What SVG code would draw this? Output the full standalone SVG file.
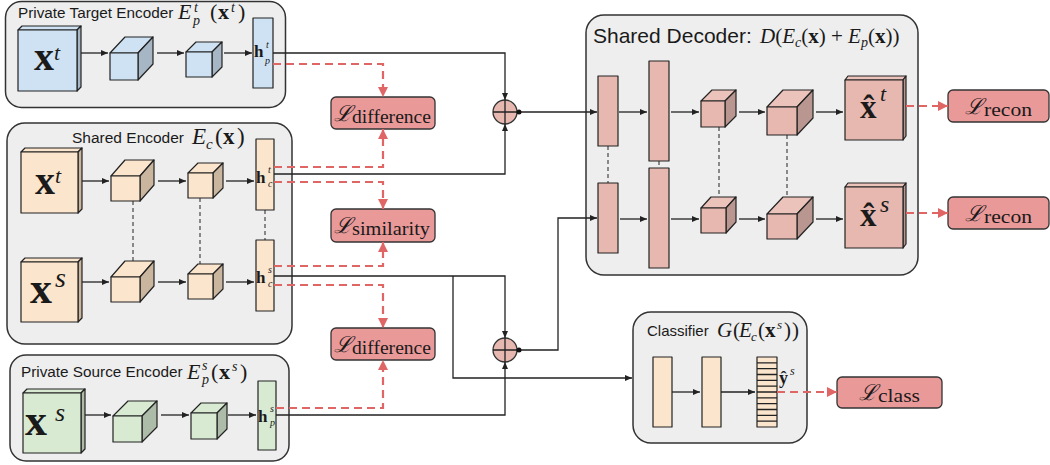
<svg xmlns="http://www.w3.org/2000/svg" width="1050" height="465" viewBox="0 0 1050 465">
<defs>
<style>
.panel{fill:#eeeeee;stroke:#333;stroke-width:1.5}
.sans{font-family:"Liberation Sans",Arial,sans-serif;fill:#1a1a1a}
.ser{font-family:"Liberation Serif","DejaVu Serif",serif;fill:#1a1a1a}
.it{font-style:italic}
.bf{font-weight:bold}
.cal{font-family:"DejaVu Serif","Liberation Serif",serif;font-style:italic;fill:#1a1a1a}
.ed{stroke:#222;stroke-width:1.2;stroke-linejoin:round}
.b1{fill:#cfe2f3}.b2{fill:#a6b6c4}
.o1{fill:#fce5cd}.o2{fill:#cab59f}
.g1{fill:#d9ead3}.g2{fill:#adbca8}
.p1{fill:#e6b8af}.p2{fill:#b99790}.p3{fill:#ebc3bb}
.loss{fill:#ea9999;stroke:#333;stroke-width:1.3}
.ln{fill:none;stroke:#222;stroke-width:1.3}
.dl{fill:none;stroke:#222;stroke-width:1;stroke-dasharray:4,3}
.rd{fill:none;stroke:#e06666;stroke-width:2.2;stroke-dasharray:8,5}
</style>
<marker id="ah" viewBox="0 0 7 6" refX="7" refY="3" markerWidth="7" markerHeight="6" markerUnits="userSpaceOnUse" orient="auto"><path d="M0,0 L7,3 L0,6 z" fill="#222"/></marker>
<marker id="rh" viewBox="0 0 10 10" refX="10" refY="5" markerWidth="10" markerHeight="10" markerUnits="userSpaceOnUse" orient="auto"><path d="M0,0 L10,5 L0,10 z" fill="#e06666"/></marker>
</defs>

<!-- Private Target Encoder -->
<g id="private-target-encoder">
<rect class="panel" x="5.5" y="1.5" width="280" height="106" rx="16"/>
<text class="sans" x="18" y="18" font-size="15.3">Private Target Encoder</text>
<text class="ser it" x="178" y="19" font-size="22">E</text>
<text class="ser it" x="194" y="12" font-size="14">t</text>
<text class="ser it" x="193" y="25" font-size="14">p</text>
<text class="ser" x="210" y="19" font-size="22">(</text>
<text class="ser bf" x="218" y="19" font-size="22">x</text>
<text class="ser it" x="231" y="12" font-size="14">t</text>
<text class="ser" x="238" y="19" font-size="22">)</text>
<polygon class="b1 ed" points="18,30 22,26 81,26 77,30"/>
<polygon class="b2 ed" points="77,30 81,26 81,87 77,91"/>
<rect class="b1 ed" x="18" y="30" width="59" height="61"/>
<text class="ser bf" x="34" y="70" font-size="40">x</text>
<text class="ser it" x="54" y="60" font-size="22">t</text>
<polygon class="b1 ed" points="110,53 125,37 153,37 138,53"/>
<polygon class="b2 ed" points="138,53 153,37 153,64 138,80"/>
<rect class="b1 ed" x="110" y="53" width="28" height="27"/>
<polygon class="b1 ed" points="186,52 196,42 222,42 212,52"/>
<polygon class="b2 ed" points="212,52 222,42 222,67 212,77"/>
<rect class="b1 ed" x="186" y="52" width="26" height="25"/>
<rect class="b1 ed" x="253" y="18" width="20" height="70"/>
<text class="ser bf" x="254" y="57" font-size="17">h</text>
<text class="ser it" x="266" y="48" font-size="10">t</text>
<text class="ser it" x="265" y="64" font-size="10">p</text>
</g>

<!-- Shared Encoder -->
<g id="shared-encoder">
<rect class="panel" x="7" y="123" width="285" height="221" rx="18"/>
<text class="sans" x="72" y="143" font-size="15.5">Shared Encoder</text>
<text class="ser it" x="192" y="144" font-size="23">E</text>
<text class="ser it" x="206" y="149" font-size="15">c</text>
<text class="ser" x="215" y="144" font-size="23">(</text>
<text class="ser bf" x="223" y="144" font-size="23">x</text>
<text class="ser" x="237" y="144" font-size="23">)</text>
<polygon class="o1 ed" points="21,152 25,148 82,148 78,152"/>
<polygon class="o2 ed" points="78,152 82,148 82,209 78,213"/>
<rect class="o1 ed" x="21" y="152" width="57" height="61"/>
<text class="ser bf" x="35" y="194" font-size="40">x</text>
<text class="ser it" x="55" y="183" font-size="22">t</text>
<polygon class="o1 ed" points="21,262 25,258 82,258 78,262"/>
<polygon class="o2 ed" points="78,262 82,258 82,318 78,322"/>
<rect class="o1 ed" x="21" y="262" width="57" height="60"/>
<text class="ser bf" x="30" y="303" font-size="44">x</text>
<text class="ser it" x="55" y="287" font-size="28">s</text>
<line class="dl" x1="133" y1="201" x2="133" y2="261"/>
<line class="dl" x1="200" y1="198" x2="200" y2="264"/>
<line class="dl" x1="265" y1="210" x2="265" y2="240"/>
<polygon class="o1 ed" points="111,176 125,160 154,160 140,176"/>
<polygon class="o2 ed" points="140,176 154,160 154,185 140,201"/>
<rect class="o1 ed" x="111" y="176" width="29" height="25"/>
<polygon class="o1 ed" points="188,173 198,163 223,163 213,173"/>
<polygon class="o2 ed" points="213,173 223,163 223,188 213,198"/>
<rect class="o1 ed" x="188" y="173" width="25" height="25"/>
<polygon class="o1 ed" points="111,277 125,261 154,261 140,277"/>
<polygon class="o2 ed" points="140,277 154,261 154,286 140,302"/>
<rect class="o1 ed" x="111" y="277" width="29" height="25"/>
<polygon class="o1 ed" points="188,274 198,264 223,264 213,274"/>
<polygon class="o2 ed" points="213,274 223,264 223,289 213,299"/>
<rect class="o1 ed" x="188" y="274" width="25" height="25"/>
<rect class="o1 ed" x="256" y="139" width="18" height="71"/>
<text class="ser bf" x="256" y="183" font-size="17">h</text>
<text class="ser it" x="268" y="173" font-size="10">t</text>
<text class="ser it" x="268" y="187" font-size="10">c</text>
<rect class="o1 ed" x="256" y="240" width="18" height="71"/>
<text class="ser bf" x="256" y="283" font-size="17">h</text>
<text class="ser it" x="268" y="273" font-size="10">s</text>
<text class="ser it" x="268" y="287" font-size="10">c</text>
</g>

<!-- Private Source Encoder -->
<g id="private-source-encoder">
<rect class="panel" x="10" y="355" width="279" height="106" rx="16"/>
<text class="sans" x="21" y="377" font-size="15.3">Private Source Encoder</text>
<text class="ser it" x="187" y="379" font-size="22">E</text>
<text class="ser it" x="202" y="370" font-size="14">s</text>
<text class="ser it" x="202" y="384" font-size="14">p</text>
<text class="ser" x="211" y="379" font-size="22">(</text>
<text class="ser bf" x="219" y="379" font-size="22">x</text>
<text class="ser it" x="232" y="371" font-size="14">s</text>
<text class="ser" x="240" y="379" font-size="22">)</text>
<polygon class="g1 ed" points="23,393 27,389 85,389 81,393"/>
<polygon class="g2 ed" points="81,393 85,389 85,449 81,453"/>
<rect class="g1 ed" x="23" y="393" width="58" height="60"/>
<text class="ser bf" x="25" y="435" font-size="44">x</text>
<text class="ser it" x="55" y="421" font-size="26">s</text>
<polygon class="g1 ed" points="113,416 128,401 157,401 142,416"/>
<polygon class="g2 ed" points="142,416 157,401 157,427 142,442"/>
<rect class="g1 ed" x="113" y="416" width="29" height="26"/>
<polygon class="g1 ed" points="191,413 201,403 227,403 217,413"/>
<polygon class="g2 ed" points="217,413 227,403 227,429 217,439"/>
<rect class="g1 ed" x="191" y="413" width="26" height="26"/>
<rect class="g1 ed" x="258" y="381" width="18" height="69"/>
<text class="ser bf" x="258" y="422" font-size="17">h</text>
<text class="ser it" x="270" y="412" font-size="10">s</text>
<text class="ser it" x="270" y="426" font-size="10">p</text>
</g>

<!-- Shared Decoder -->
<g id="shared-decoder">
<rect class="panel" x="586" y="15" width="332" height="260" rx="18"/>
<text class="sans" x="593" y="43" font-size="21">Shared Decoder:</text>
<text class="ser" x="760" y="43" font-size="21"><tspan class="it">D</tspan>(<tspan class="it">E</tspan><tspan class="it" font-size="14" dy="4">c</tspan><tspan dy="-4">(</tspan><tspan class="bf">x</tspan>) + <tspan class="it">E</tspan><tspan class="it" font-size="14" dy="4">p</tspan><tspan dy="-4">(</tspan><tspan class="bf">x</tspan>))</text>
<line class="dl" x1="608" y1="146" x2="608" y2="183"/>
<line class="dl" x1="659" y1="161" x2="659" y2="168"/>
<line class="dl" x1="719" y1="127" x2="719" y2="200"/>
<line class="dl" x1="787" y1="135" x2="787" y2="200"/>
<rect class="p1 ed" x="598" y="76" width="20" height="70"/>
<rect class="p1 ed" x="649" y="61" width="20" height="100"/>
<rect class="p1 ed" x="598" y="183" width="20" height="70"/>
<rect class="p1 ed" x="649" y="168" width="20" height="100"/>
<polygon class="p3 ed" points="701,101 712,90 736,90 725,101"/>
<polygon class="p2 ed" points="725,101 736,90 736,116 725,127"/>
<rect class="p1 ed" x="701" y="101" width="24" height="26"/>
<polygon class="p3 ed" points="767,107 783,90 813,90 797,107"/>
<polygon class="p2 ed" points="797,107 813,90 813,118 797,135"/>
<rect class="p1 ed" x="767" y="107" width="30" height="28"/>
<polygon class="p3 ed" points="701,208 711,197 736,197 726,208"/>
<polygon class="p2 ed" points="726,208 736,197 736,222 726,233"/>
<rect class="p1 ed" x="701" y="208" width="25" height="25"/>
<polygon class="p3 ed" points="767,214 783,197 813,197 797,214"/>
<polygon class="p2 ed" points="797,214 813,197 813,222 797,239"/>
<rect class="p1 ed" x="767" y="214" width="30" height="25"/>
<polygon class="p3 ed" points="845,80 848,76 906,76 903,80"/>
<polygon class="p2 ed" points="903,80 906,76 906,136 903,140"/>
<rect class="p1 ed" x="845" y="80" width="58" height="60"/>
<text class="ser bf" x="860" y="118" font-size="33">x&#x302;</text>
<text class="ser it" x="880" y="101" font-size="22">t</text>
<polygon class="p3 ed" points="845,187 848,183 906,183 903,187"/>
<polygon class="p2 ed" points="903,187 906,183 906,244 903,248"/>
<rect class="p1 ed" x="845" y="187" width="58" height="61"/>
<text class="ser bf" x="860" y="226" font-size="33">x&#x302;</text>
<text class="ser it" x="880" y="212" font-size="24">s</text>
</g>

<!-- Classifier -->
<g id="classifier">
<rect class="panel" x="633" y="312" width="174" height="131" rx="18"/>
<text class="sans" x="647" y="336" font-size="15">Classifier</text>
<text class="ser it" x="717" y="337" font-size="21">G</text>
<text class="ser" x="733" y="337" font-size="21">(</text>
<text class="ser it" x="739" y="337" font-size="21">E</text>
<text class="ser it" x="751" y="341" font-size="13">c</text>
<text class="ser" x="758" y="337" font-size="21">(</text>
<text class="ser bf" x="765" y="337" font-size="21">x</text>
<text class="ser it" x="777" y="329" font-size="13">s</text>
<text class="ser" x="784" y="337" font-size="21">)</text>
<text class="ser" x="792" y="337" font-size="21">)</text>
<rect class="o1 ed" x="653" y="357" width="19" height="70"/>
<rect class="o1 ed" x="702" y="357" width="19" height="70"/>
<rect class="o1 ed" x="757" y="357" width="20" height="70"/>
<path class="ln" d="M757,362.8H777M757,368.7H777M757,374.5H777M757,380.3H777M757,386.2H777M757,392H777M757,397.8H777M757,403.7H777M757,409.5H777M757,415.3H777M757,421.2H777"/>
<text class="ser bf" x="779" y="384" font-size="18">y&#x302;</text>
<text class="ser it" x="790" y="375" font-size="12">s</text>
</g>

<!-- Loss nodes -->
<g id="loss-difference-top">
<rect class="loss" x="331" y="97" width="104" height="32" rx="5"/>
<text class="cal" x="334" y="121" font-size="22">ℒ</text>
<text class="ser" x="352" y="123" font-size="19" textLength="79" lengthAdjust="spacingAndGlyphs">difference</text>
</g>
<g id="loss-similarity">
<rect class="loss" x="331" y="209" width="104" height="33" rx="5"/>
<text class="cal" x="334" y="233" font-size="22">ℒ</text>
<text class="ser" x="352" y="235" font-size="19" textLength="78" lengthAdjust="spacingAndGlyphs">similarity</text>
</g>
<g id="loss-difference-bottom">
<rect class="loss" x="331" y="328" width="104" height="32" rx="5"/>
<text class="cal" x="334" y="352" font-size="22">ℒ</text>
<text class="ser" x="352" y="354" font-size="19" textLength="79" lengthAdjust="spacingAndGlyphs">difference</text>
</g>
<g id="loss-recon-target">
<rect class="loss" x="948" y="90" width="101" height="32" rx="5"/>
<text class="cal" x="965" y="114" font-size="22">ℒ</text>
<text class="ser" x="984" y="116" font-size="19" textLength="48" lengthAdjust="spacingAndGlyphs">recon</text>
</g>
<g id="loss-recon-source">
<rect class="loss" x="948" y="197" width="101" height="32" rx="5"/>
<text class="cal" x="965" y="221" font-size="22">ℒ</text>
<text class="ser" x="984" y="223" font-size="19" textLength="48" lengthAdjust="spacingAndGlyphs">recon</text>
</g>
<g id="loss-class">
<rect class="loss" x="837" y="377" width="105" height="31" rx="5"/>
<text class="cal" x="859" y="400" font-size="22">ℒ</text>
<text class="ser" x="878" y="402" font-size="19" textLength="42" lengthAdjust="spacingAndGlyphs">class</text>
</g>

<!-- Sum nodes -->
<g id="sum-top">
<circle cx="505" cy="112" r="12" fill="#e6b8af" stroke="#333" stroke-width="1.3"/>
<path class="ln" d="M493,112H517M505,100V124"/>
</g>
<g id="sum-bottom">
<circle cx="505" cy="350" r="12" fill="#e6b8af" stroke="#333" stroke-width="1.3"/>
<path class="ln" d="M493,350H517M505,338V362"/>
</g>

<!-- Connectors -->
<g id="connectors">
<line class="ln" x1="81" y1="53" x2="108" y2="53" marker-end="url(#ah)"/>
<line class="ln" x1="157" y1="53" x2="184" y2="53" marker-end="url(#ah)"/>
<line class="ln" x1="224" y1="53" x2="252" y2="53" marker-end="url(#ah)"/>
<line class="ln" x1="82" y1="181" x2="109" y2="181" marker-end="url(#ah)"/>
<line class="ln" x1="158" y1="181" x2="186" y2="181" marker-end="url(#ah)"/>
<line class="ln" x1="226" y1="181" x2="254" y2="181" marker-end="url(#ah)"/>
<line class="ln" x1="82" y1="282" x2="109" y2="282" marker-end="url(#ah)"/>
<line class="ln" x1="158" y1="282" x2="186" y2="282" marker-end="url(#ah)"/>
<line class="ln" x1="226" y1="282" x2="254" y2="282" marker-end="url(#ah)"/>
<line class="ln" x1="85" y1="415" x2="111" y2="415" marker-end="url(#ah)"/>
<line class="ln" x1="161" y1="415" x2="189" y2="415" marker-end="url(#ah)"/>
<line class="ln" x1="228" y1="415" x2="256" y2="415" marker-end="url(#ah)"/>
<line class="ln" x1="619" y1="112" x2="647" y2="112" marker-end="url(#ah)"/>
<line class="ln" x1="671" y1="112" x2="699" y2="112" marker-end="url(#ah)"/>
<line class="ln" x1="739" y1="112" x2="765" y2="112" marker-end="url(#ah)"/>
<line class="ln" x1="816" y1="112" x2="843" y2="112" marker-end="url(#ah)"/>
<line class="ln" x1="620" y1="219" x2="647" y2="219" marker-end="url(#ah)"/>
<line class="ln" x1="671" y1="219" x2="699" y2="219" marker-end="url(#ah)"/>
<line class="ln" x1="739" y1="219" x2="765" y2="219" marker-end="url(#ah)"/>
<line class="ln" x1="816" y1="219" x2="843" y2="219" marker-end="url(#ah)"/>
<line class="ln" x1="672" y1="392" x2="700" y2="392" marker-end="url(#ah)"/>
<line class="ln" x1="721" y1="392" x2="755" y2="392" marker-end="url(#ah)"/>
<polyline class="ln" points="273,53 505,53 505,100" marker-end="url(#ah)"/>
<polyline class="ln" points="274,174 505,174 505,124" marker-end="url(#ah)"/>
<polyline class="ln" points="274,276 505,276 505,338" marker-end="url(#ah)"/>
<polyline class="ln" points="453,276 453,378 632,378" marker-end="url(#ah)"/>
<polyline class="ln" points="276,415 505,415 505,362" marker-end="url(#ah)"/>
<line class="ln" x1="519" y1="112" x2="597" y2="112" marker-end="url(#ah)"/>
<circle cx="519" cy="112" r="2.5" fill="#111"/>
<polyline class="ln" points="519,350 558,350 558,218 597,218" marker-end="url(#ah)"/>
<circle cx="519" cy="350" r="2.5" fill="#111"/>
<polyline class="rd" points="273,64 383,64 383,97" marker-end="url(#rh)"/>
<polyline class="rd" points="274,167 383,167 383,129" marker-end="url(#rh)"/>
<polyline class="rd" points="274,182 383,182 383,209" marker-end="url(#rh)"/>
<polyline class="rd" points="274,266 383,266 383,242" marker-end="url(#rh)"/>
<polyline class="rd" points="274,285 383,285 383,328" marker-end="url(#rh)"/>
<polyline class="rd" points="276,408 383,408 383,360" marker-end="url(#rh)"/>
<line class="rd" x1="906" y1="106" x2="948" y2="106" marker-end="url(#rh)"/>
<line class="rd" x1="906" y1="213" x2="948" y2="213" marker-end="url(#rh)"/>
<line class="rd" x1="777" y1="392" x2="837" y2="392" marker-end="url(#rh)"/>
</g>
</svg>
